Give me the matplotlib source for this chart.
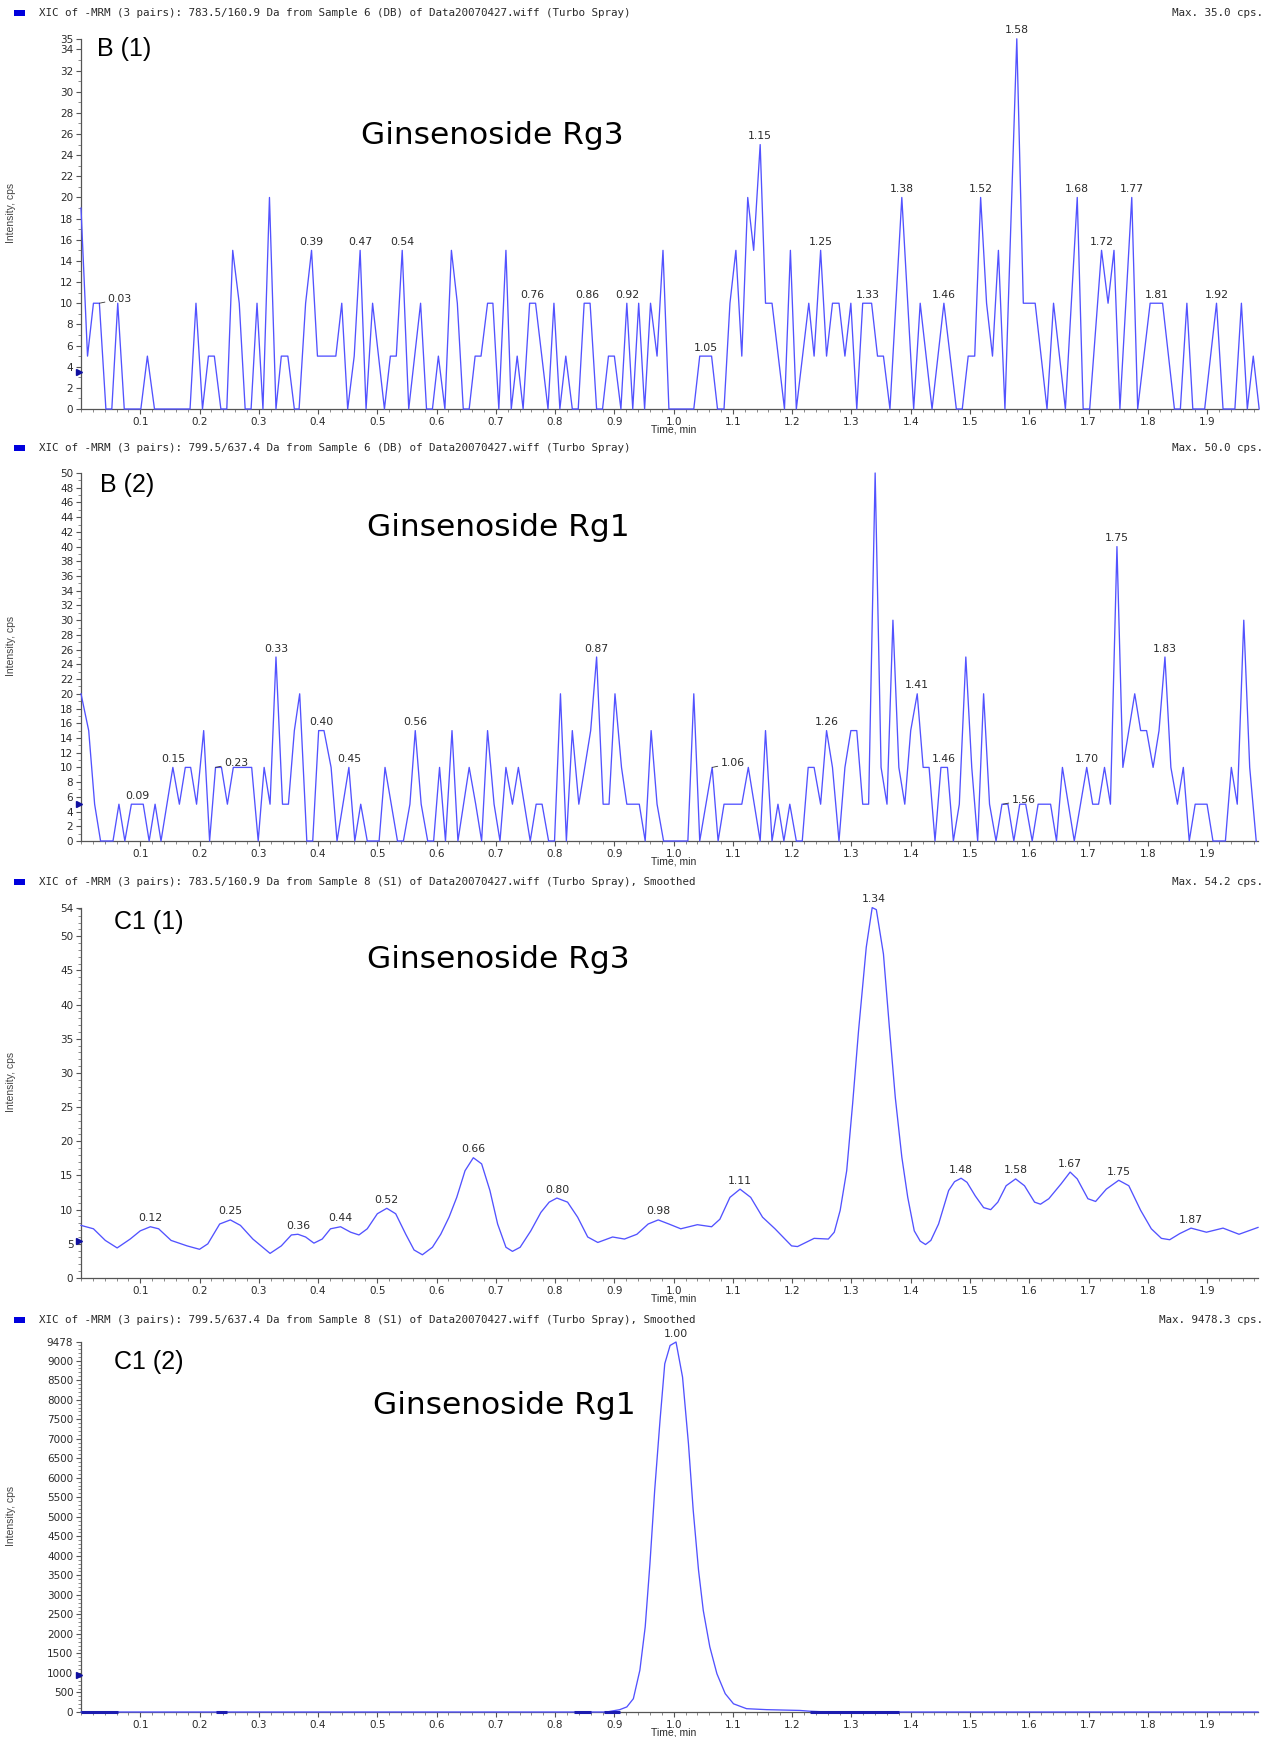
import matplotlib
matplotlib.use("Agg")
import matplotlib.pyplot as plt
from matplotlib.ticker import FixedLocator, MultipleLocator, NullFormatter
import matplotlib.transforms as mtransforms

# ---------------- data ----------------
# Panel B(1): Ginsenoside Rg3, Sample 6 (DB)
b1_time = [0.000, 0.011, 0.021, 0.031, 0.042, 0.052, 0.062, 0.073, 0.101, 0.112, 0.124, 0.184, 0.194, 0.205,
           0.215, 0.225, 0.236, 0.246, 0.256, 0.267, 0.277, 0.287, 0.297, 0.307, 0.318, 0.329, 0.338, 0.349,
           0.360, 0.368, 0.379, 0.389, 0.399, 0.430, 0.440, 0.450, 0.461, 0.471, 0.481, 0.492, 0.512, 0.522,
           0.532, 0.542, 0.553, 0.573, 0.583, 0.593, 0.603, 0.614, 0.625, 0.635, 0.645, 0.655, 0.665, 0.675,
           0.686, 0.695, 0.705, 0.717, 0.726, 0.736, 0.746, 0.757, 0.767, 0.788, 0.798, 0.808, 0.818, 0.829,
           0.839, 0.849, 0.859, 0.870, 0.880, 0.890, 0.900, 0.911, 0.921, 0.931, 0.941, 0.951, 0.961, 0.972,
           0.982, 0.992, 1.034, 1.044, 1.064, 1.074, 1.085, 1.095, 1.105, 1.115, 1.125, 1.135, 1.146, 1.155,
           1.166, 1.187, 1.197, 1.207, 1.228, 1.237, 1.248, 1.258, 1.268, 1.279, 1.289, 1.299, 1.309, 1.319,
           1.334, 1.344, 1.354, 1.365, 1.385, 1.405, 1.416, 1.436, 1.456, 1.477, 1.487, 1.497, 1.508, 1.518,
           1.528, 1.538, 1.548, 1.559, 1.579, 1.590, 1.610, 1.630, 1.641, 1.661, 1.681, 1.691, 1.702, 1.722,
           1.733, 1.743, 1.753, 1.773, 1.783, 1.804, 1.825, 1.845, 1.855, 1.866, 1.876, 1.896, 1.916, 1.927,
           1.947, 1.958, 1.968, 1.978, 1.988]
b1_int = [19, 5, 10, 10, 0, 0, 10, 0, 0, 5, 0, 0, 10, 0,
          5, 5, 0, 0, 15, 10, 0, 0, 10, 0, 20, 0, 5, 5,
          0, 0, 10, 15, 5, 5, 10, 0, 5, 15, 0, 10, 0, 5,
          5, 15, 0, 10, 0, 0, 5, 0, 15, 10, 0, 0, 5, 5,
          10, 10, 0, 15, 0, 5, 0, 10, 10, 0, 10, 0, 5, 0,
          0, 10, 10, 0, 0, 5, 5, 0, 10, 0, 10, 0, 10, 5,
          15, 0, 0, 5, 5, 0, 0, 10, 15, 5, 20, 15, 25, 10,
          10, 0, 15, 0, 10, 5, 15, 5, 10, 10, 5, 10, 0, 10,
          10, 5, 5, 0, 20, 0, 10, 0, 10, 0, 0, 5, 5, 20,
          10, 5, 15, 0, 35, 10, 10, 0, 10, 0, 20, 0, 0, 15,
          10, 15, 0, 20, 0, 10, 10, 0, 0, 10, 0, 0, 10, 0,
          0, 10, 0, 5, 0]
b1_lbl = ["0.39", "0.47", "0.54", "0.76", "0.86", "0.92", "1.05", "1.15", "1.25", "1.33", "1.38",
          "1.46", "1.52", "1.58", "1.68", "1.72", "1.77", "1.81", "1.92"]
b1_lbl_t = [0.389, 0.471, 0.542, 0.762, 0.854, 0.921, 1.054, 1.146, 1.248, 1.327, 1.385,
            1.456, 1.518, 1.579, 1.681, 1.722, 1.773, 1.815, 1.916]
b1_lbl_v = [15, 15, 15, 10, 10, 10, 5, 25, 15, 10, 20, 10, 20, 35, 20, 15, 20, 10, 10]
b1_lead = ["0.03"]
b1_lead_t = [0.031]
b1_lead_v = [10]

# Panel B(2): Ginsenoside Rg1, Sample 6 (DB)
b2_time = [0.000, 0.013, 0.023, 0.033, 0.054, 0.064, 0.074, 0.085, 0.105, 0.115, 0.125, 0.135, 0.155, 0.166,
           0.176, 0.185, 0.195, 0.207, 0.217, 0.227, 0.237, 0.247, 0.257, 0.288, 0.299, 0.309, 0.319, 0.329,
           0.340, 0.350, 0.360, 0.369, 0.381, 0.391, 0.401, 0.410, 0.422, 0.432, 0.452, 0.462, 0.472, 0.483,
           0.503, 0.513, 0.534, 0.544, 0.555, 0.564, 0.574, 0.585, 0.595, 0.605, 0.615, 0.626, 0.636, 0.655,
           0.666, 0.676, 0.686, 0.697, 0.707, 0.717, 0.728, 0.738, 0.748, 0.758, 0.768, 0.778, 0.789, 0.799,
           0.809, 0.819, 0.829, 0.840, 0.860, 0.870, 0.881, 0.891, 0.901, 0.912, 0.921, 0.942, 0.952, 0.962,
           0.972, 0.983, 1.024, 1.034, 1.044, 1.065, 1.075, 1.085, 1.115, 1.126, 1.146, 1.155, 1.166, 1.176,
           1.186, 1.196, 1.207, 1.217, 1.227, 1.237, 1.248, 1.258, 1.268, 1.279, 1.289, 1.299, 1.309, 1.319,
           1.329, 1.340, 1.350, 1.360, 1.370, 1.380, 1.390, 1.400, 1.411, 1.421, 1.431, 1.441, 1.451, 1.462,
           1.472, 1.482, 1.493, 1.503, 1.513, 1.523, 1.533, 1.544, 1.554, 1.564, 1.574, 1.584, 1.594, 1.605,
           1.615, 1.636, 1.646, 1.656, 1.676, 1.697, 1.707, 1.717, 1.727, 1.737, 1.748, 1.758, 1.768, 1.778,
           1.788, 1.798, 1.809, 1.819, 1.829, 1.839, 1.850, 1.860, 1.870, 1.880, 1.900, 1.910, 1.931, 1.941,
           1.951, 1.962, 1.972, 1.983]
b2_int = [20, 15, 5, 0, 0, 5, 0, 5, 5, 0, 5, 0, 10, 5,
          10, 10, 5, 15, 0, 10, 10, 5, 10, 10, 0, 10, 5, 25,
          5, 5, 15, 20, 0, 0, 15, 15, 10, 0, 10, 0, 5, 0,
          0, 10, 0, 0, 5, 15, 5, 0, 0, 10, 0, 15, 0, 10,
          5, 0, 15, 5, 0, 10, 5, 10, 5, 0, 5, 5, 0, 0,
          20, 0, 15, 5, 15, 25, 5, 5, 20, 10, 5, 5, 0, 15,
          5, 0, 0, 20, 0, 10, 0, 5, 5, 10, 0, 15, 0, 5,
          0, 5, 0, 0, 10, 10, 5, 15, 10, 0, 10, 15, 15, 5,
          5, 50, 10, 5, 30, 10, 5, 15, 20, 10, 10, 0, 10, 10,
          0, 5, 25, 10, 0, 20, 5, 0, 5, 5, 0, 5, 5, 0,
          5, 5, 0, 10, 0, 10, 5, 5, 10, 5, 40, 10, 15, 20,
          15, 15, 10, 15, 25, 10, 5, 10, 0, 5, 5, 0, 0, 10,
          5, 30, 10, 0]
b2_lbl = ["0.09", "0.15", "0.33", "0.40", "0.45", "0.56", "0.87", "1.26", "1.41", "1.46", "1.70",
          "1.75", "1.83"]
b2_lbl_t = [0.095, 0.155, 0.329, 0.405, 0.452, 0.564, 0.870, 1.258, 1.411, 1.456, 1.697, 1.748, 1.829]
b2_lbl_v = [5, 10, 25, 15, 10, 15, 25, 15, 20, 10, 10, 40, 25]
b2_lead = ["0.23", "1.06", "1.56"]
b2_lead_t = [0.227, 1.065, 1.556]
b2_lead_v = [10, 10, 5]

# Panel C1(1): Ginsenoside Rg3, Sample 8 (S1), smoothed
c1_time = [0.000, 0.021, 0.041, 0.061, 0.083, 0.100, 0.117, 0.131, 0.152, 0.179, 0.200, 0.214, 0.234, 0.252,
           0.269, 0.290, 0.319, 0.338, 0.355, 0.366, 0.379, 0.393, 0.407, 0.421, 0.438, 0.455, 0.469, 0.483,
           0.500, 0.516, 0.531, 0.548, 0.562, 0.576, 0.593, 0.607, 0.621, 0.634, 0.648, 0.662, 0.676, 0.690,
           0.703, 0.717, 0.728, 0.741, 0.759, 0.776, 0.790, 0.803, 0.821, 0.838, 0.855, 0.872, 0.897, 0.917,
           0.938, 0.957, 0.974, 0.992, 1.012, 1.040, 1.064, 1.078, 1.095, 1.112, 1.130, 1.150, 1.171, 1.199,
           1.209, 1.237, 1.261, 1.271, 1.281, 1.292, 1.302, 1.312, 1.325, 1.335, 1.342, 1.354, 1.364, 1.374,
           1.385, 1.395, 1.406, 1.416, 1.425, 1.434, 1.447, 1.464, 1.474, 1.485, 1.495, 1.509, 1.523, 1.535,
           1.547, 1.561, 1.577, 1.592, 1.609, 1.619, 1.633, 1.654, 1.669, 1.681, 1.699, 1.712, 1.730, 1.751,
           1.768, 1.788, 1.806, 1.823, 1.837, 1.854, 1.873, 1.899, 1.927, 1.954, 1.986]
c1_int = [7.7, 7.2, 5.5, 4.4, 5.7, 6.9, 7.5, 7.2, 5.5, 4.7, 4.2, 5.0, 7.9, 8.5,
          7.7, 5.7, 3.6, 4.7, 6.3, 6.4, 6.0, 5.1, 5.7, 7.2, 7.5, 6.7, 6.3, 7.2,
          9.4, 10.2, 9.4, 6.4, 4.1, 3.4, 4.5, 6.4, 8.9, 11.8, 15.7, 17.6, 16.7, 12.8,
          7.9, 4.5, 3.9, 4.5, 6.9, 9.6, 11.1, 11.7, 11.1, 8.9, 6.0, 5.2, 6.0, 5.7,
          6.4, 7.9, 8.5, 7.9, 7.2, 7.8, 7.5, 8.6, 11.8, 13.0, 11.8, 8.9, 7.2, 4.7,
          4.6, 5.8, 5.7, 6.7, 9.9, 15.7, 25.5, 36.2, 48.4, 54.2, 53.9, 47.4, 36.7, 26.4,
          17.7, 11.8, 6.9, 5.4, 4.9, 5.5, 7.9, 12.8, 14.1, 14.6, 14.0, 12.0, 10.3, 10.0,
          11.1, 13.5, 14.5, 13.5, 11.1, 10.8, 11.6, 13.8, 15.5, 14.5, 11.6, 11.2, 13.0, 14.3,
          13.5, 9.9, 7.2, 5.8, 5.6, 6.5, 7.3, 6.7, 7.3, 6.4, 7.4]
c1_lbl = ["0.12", "0.25", "0.36", "0.44", "0.52", "0.66", "0.80", "0.98", "1.11", "1.34", "1.48",
          "1.58", "1.67", "1.75", "1.87"]
c1_lbl_t = [0.117, 0.252, 0.366, 0.438, 0.516, 0.662, 0.803, 0.974, 1.112, 1.338, 1.485, 1.577,
            1.669, 1.751, 1.873]
c1_lbl_v = [7.5, 8.5, 6.4, 7.5, 10.2, 17.6, 11.7, 8.5, 13.0, 54.2, 14.6, 14.5, 15.5, 14.3, 7.3]

# Panel C1(2): Ginsenoside Rg1, Sample 8 (S1), smoothed
c2_time = [0.000, 0.887, 0.909, 0.921, 0.932, 0.943, 0.952, 0.960, 0.968, 0.977, 0.985, 0.994, 1.004,
           1.015, 1.025, 1.033, 1.042, 1.050, 1.061, 1.073, 1.087, 1.101, 1.123, 1.157, 1.213, 1.230,
           1.260, 1.986]
c2_int = [0, 0, 60, 130, 340, 1070, 2180, 3800, 5680, 7470, 8920, 9390, 9478,
          8580, 6870, 5170, 3630, 2600, 1670, 980, 470, 210, 85, 60, 40, 20,
          0, 0]
c2_lbl = ["1.00"]
c2_lbl_t = [1.004]
c2_lbl_v = [9478]
c2_base_start = [0.000, 0.228, 0.832, 0.882, 1.230]
c2_base_end = [0.062, 0.246, 0.860, 0.910, 1.380]

# axis / header texts
headers = ["XIC of -MRM (3 pairs): 783.5/160.9 Da from Sample 6 (DB) of Data20070427.wiff (Turbo Spray)",
           "XIC of -MRM (3 pairs): 799.5/637.4 Da from Sample 6 (DB) of Data20070427.wiff (Turbo Spray)",
           "XIC of -MRM (3 pairs): 783.5/160.9 Da from Sample 8 (S1) of Data20070427.wiff (Turbo Spray), Smoothed",
           "XIC of -MRM (3 pairs): 799.5/637.4 Da from Sample 8 (S1) of Data20070427.wiff (Turbo Spray), Smoothed"]
max_texts = ["Max. 35.0 cps.", "Max. 50.0 cps.", "Max. 54.2 cps.", "Max. 9478.3 cps."]
panel_ids = ["B (1)", "B (2)", "C1 (1)", "C1 (2)"]
compounds = ["Ginsenoside Rg3", "Ginsenoside Rg1", "Ginsenoside Rg3", "Ginsenoside Rg1"]
y_max = [35.0, 50.0, 54.2, 9478.3]
y_ticks = [list(range(0, 35, 2)) + [35],
           list(range(0, 51, 2)),
           list(range(0, 51, 5)) + [54.2],
           list(range(0, 9001, 500)) + [9478.3]]
y_ticklabels = [[str(v) for v in range(0, 35, 2)] + ["35"],
                [str(v) for v in range(0, 51, 2)],
                [str(v) for v in range(0, 51, 5)] + ["54"],
                [str(v) for v in range(0, 9001, 500)] + ["9478"]]
y_minor = [1, 1, 1, 100]
marker_level = [3.5, 5.0, 5.4, 950]
x_ticks = [0.1, 0.2, 0.3, 0.4, 0.5, 0.6, 0.7, 0.8, 0.9, 1.0, 1.1, 1.2, 1.3, 1.4, 1.5, 1.6, 1.7, 1.8, 1.9]

# ---------------- drawing ----------------
W, H = 1280, 1737
fig = plt.figure(figsize=(12.8, 17.37), dpi=100)
fig.patch.set_facecolor("white")

def fx(x):
    return x / W

def fy(y):
    return 1 - y / H

LINE = "#5252ff"
TXT = "#2a2a2a"
AX_L, AX_R = 81, 1258
XMAX = 1.986
boxes = [(38.8, 409), (473, 841), (907.6, 1278), (1342, 1712)]
header_y = [13, 448, 882, 1320]
id_pos = [(97, 49), (100, 485), (114, 922), (114, 1362)]
cmp_pos = [(492, 135), (498, 528), (498, 960), (504, 1405)]

series = [(b1_time, b1_int), (b2_time, b2_int), (c1_time, c1_int), (c2_time, c2_int)]
labels = [(b1_lbl, b1_lbl_t, b1_lbl_v), (b2_lbl, b2_lbl_t, b2_lbl_v),
          (c1_lbl, c1_lbl_t, c1_lbl_v), (c2_lbl, c2_lbl_t, c2_lbl_v)]
leaders = [(b1_lead, b1_lead_t, b1_lead_v), (b2_lead, b2_lead_t, b2_lead_v), ([], [], []), ([], [], [])]

for i in range(4):
    top, bot = boxes[i]
    ax = fig.add_axes([fx(AX_L), fy(bot), fx(AX_R - AX_L), (bot - top) / H])
    ax.set_facecolor("none")
    t, v = series[i]
    ax.plot(t, v, color=LINE, lw=0.95, zorder=3, clip_on=False)
    if i == 3:
        for a, b in zip(c2_base_start, c2_base_end):
            ax.plot([a, b], [0, 0], color="#1c1cb0", lw=2.2, zorder=4, solid_capstyle="butt", clip_on=False)
    ax.set_xlim(0, XMAX)
    ax.set_ylim(0, y_max[i])
    for s in ["top", "right"]:
        ax.spines[s].set_visible(False)
    for s in ["left", "bottom"]:
        ax.spines[s].set_color("#555555")
        ax.spines[s].set_linewidth(0.9)
    ax.xaxis.set_major_locator(FixedLocator(x_ticks))
    ax.set_xticklabels([f"{x:.1f}" for x in x_ticks])
    ax.xaxis.set_minor_locator(MultipleLocator(0.02))
    ax.yaxis.set_major_locator(FixedLocator(y_ticks[i]))
    ax.set_yticklabels(y_ticklabels[i])
    ax.yaxis.set_minor_locator(MultipleLocator(y_minor[i]))
    ax.yaxis.set_minor_formatter(NullFormatter())
    ax.tick_params(axis="both", which="major", length=3.5, width=0.8, color="#555555",
                   labelsize=7.5, labelcolor=TXT, pad=2)
    ax.tick_params(axis="both", which="minor", length=2, width=0.6, color="#777777")
    # peak labels
    lb, lt, lv = labels[i]
    for s, tt, vv in zip(lb, lt, lv):
        ax.annotate(s, xy=(tt, vv), xytext=(0, 2.5), textcoords="offset points",
                    ha="center", va="bottom", fontsize=7.8, color=TXT, zorder=5)
    lb, lt, lv = leaders[i]
    for s, tt, vv in zip(lb, lt, lv):
        ax.annotate(s, xy=(tt, vv), xytext=(6, 3), textcoords="offset points",
                    ha="left", va="center", fontsize=7.8, color=TXT, zorder=5,
                    arrowprops=dict(arrowstyle="-", color="#333333", lw=0.6, shrinkA=0, shrinkB=0))
    # y-axis marker
    ax.plot([-0.004], [marker_level[i]], marker=">", color="#1010a0", ms=5, clip_on=False, zorder=6)
    # Time, min label
    trans = mtransforms.blended_transform_factory(ax.transData, ax.transAxes)
    ax.annotate("Time, min", xy=(1.0, 0), xycoords=trans, xytext=(0, -11), textcoords="offset points",
                ha="center", va="top", fontsize=7.5, color=TXT, family="Liberation Sans")
    # Y label
    fig.text(fx(11), fy((top + bot) / 2 - 11), "Intensity, cps", rotation=90, ha="center", va="center",
             fontsize=7.5, color="#444444", family="Liberation Sans")
    # header
    hy = header_y[i]
    fig.patches.append(plt.Rectangle((fx(14), fy(hy + 3)), fx(11), 6 / H, transform=fig.transFigure,
                                     facecolor="#0000dd", edgecolor="none"))
    fig.text(fx(39), fy(hy), headers[i], ha="left", va="center", fontsize=7.8, color=TXT,
             family="DejaVu Sans Mono")
    fig.text(fx(1263), fy(hy), max_texts[i], ha="right", va="center", fontsize=7.8, color=TXT,
             family="DejaVu Sans Mono")
    # panel id + compound
    px, py = id_pos[i]
    fig.text(fx(px), fy(py), panel_ids[i], ha="left", va="center", fontsize=18, color="black",
             family="Liberation Sans")
    cx, cy = cmp_pos[i]
    fig.text(fx(cx), fy(cy), compounds[i], ha="center", va="center", fontsize=22.5, color="black",
             family="DejaVu Sans")

fig.savefig("out.png", dpi=100, facecolor="white")
